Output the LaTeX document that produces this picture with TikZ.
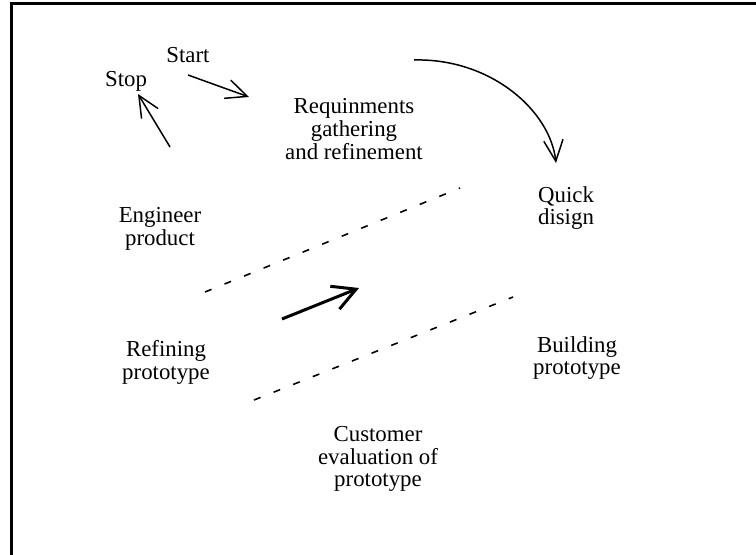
\documentclass[tikz,border=0pt]{standalone}
\usepackage{fontspec}
\setmainfont{Liberation Serif}
\usetikzlibrary{arrows.meta}

\tikzset{
  lbl/.style={align=center,inner sep=0pt,font=\fontsize{13pt}{13pt}\selectfont},
  arr/.style={line width=0.85pt,-{Straight Barb[length=12pt,width=11pt]}},
  bigarr/.style={line width=1.7pt,-{Straight Barb[length=13pt,width=14pt]}},
  split/.style={line width=0.9pt,dash pattern=on 4pt off 8pt},
}

\begin{document}
\begin{tikzpicture}[x=0.02cm,y=-0.02cm]
\useasboundingbox (0,0) rectangle (756,554);
\clip (0,0) rectangle (756,554);
\draw[line width=1.4pt] (11.5,3.5) rectangle (790,590);

\node[lbl] (start) at (188,55) {Start};
\node[lbl] (stop) at (126,81) {Stop};
\node[lbl] (req) at (354,129) {Requinments\\gathering\\and refinement};
\node[lbl] (quick) at (566,208) {Quick\\disign};
\node[lbl] (eng) at (160,229) {Engineer\\product};
\node[lbl] (refine) at (166,362) {Refining\\prototype};
\node[lbl] (build) at (577,358) {Building\\prototype};
\node[lbl] (cust) at (378,459) {Customer\\evaluation of\\prototype};

% arrow ends
\coordinate (startA) at (188,75);
\coordinate (startB) at (249,97);
\coordinate (stopA) at (170,147);
\coordinate (stopB) at (138,94);
\coordinate (quickA) at (414,60);
\coordinate (quickB) at (556,163);
\coordinate (midA) at (282,319);
\coordinate (midB) at (359,288);

\draw[arr] (startA) -- (startB);
\draw[arr] (stopA) -- (stopB);
\draw[arr] (quickA) .. controls (490,58) and (550,110) .. (quickB);
\draw[bigarr] (midA) -- (midB);

% dashed separators
\draw[split] (205,292) -- (460,188);
\draw[split] (254,400) -- (513,297);
\end{tikzpicture}
\end{document}
